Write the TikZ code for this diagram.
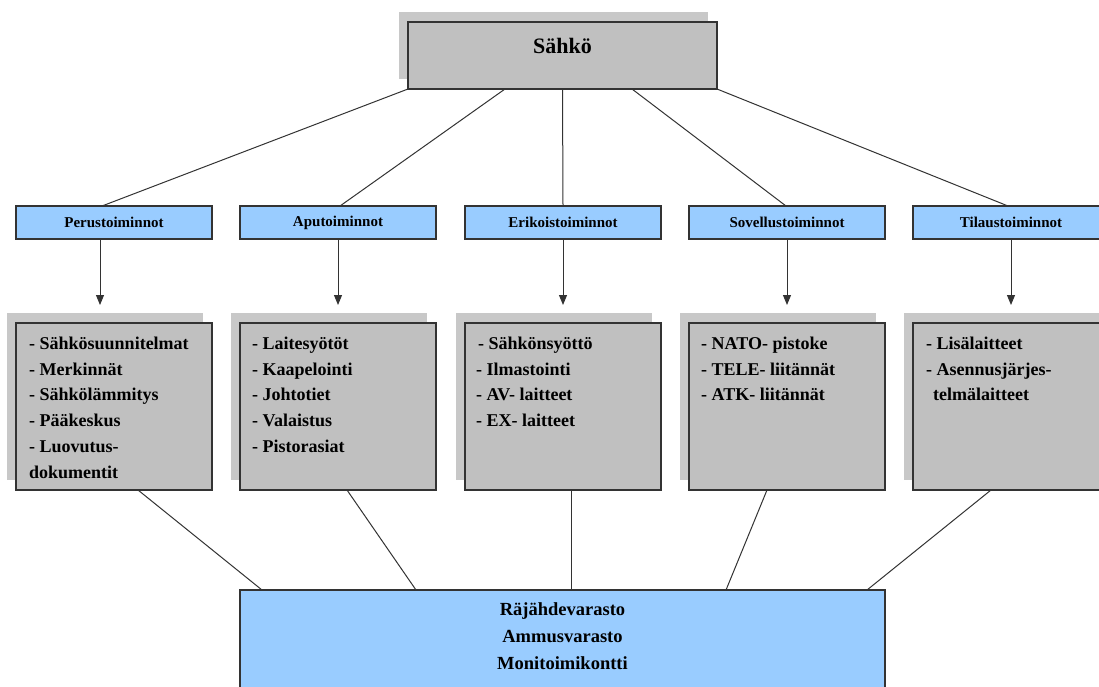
\documentclass[tikz,border=0pt]{standalone}
\usepackage{fontspec}
\setmainfont{Liberation Serif}
\usetikzlibrary{arrows.meta}
\definecolor{boxgray}{HTML}{C0C0C0}
\definecolor{shadowgray}{HTML}{C8C8C8}
\definecolor{catblue}{HTML}{99CCFF}
\definecolor{edgegray}{HTML}{333333}
\begin{document}
\begin{tikzpicture}[x=1pt,y=-1pt,
  panel/.style={draw=edgegray,line width=1.2pt,inner sep=0pt,outer sep=0pt,anchor=north west},
  shade/.style={fill=shadowgray,inner sep=0pt,outer sep=0pt,anchor=north west},
  headbox/.style={panel,fill=boxgray,minimum width=309pt,minimum height=67pt},
  catbox/.style={panel,fill=catblue,minimum width=196pt,minimum height=33pt,
    font=\fontsize{15}{18}\selectfont\bfseries},
  listbox/.style={panel,fill=boxgray,minimum width=196pt,minimum height=167pt},
  listshade/.style={shade,minimum width=196pt,minimum height=167pt},
  items/.style={anchor=north west,align=left,inner sep=0pt,
    font=\fontsize{18}{25.8}\selectfont\bfseries},
  basebox/.style={panel,fill=catblue,minimum width=645pt,minimum height=120pt},
  conn/.style={draw=edgegray,line width=1pt},
  arrow/.style={conn,-{Triangle[width=8pt,length=10pt]}}]
\clip (0,0) rectangle (1099,686);
\fill[white] (0,0) rectangle (1099,686);

% top box with its offset shadow
\node[shade,minimum width=309pt,minimum height=67pt] (tops) at (399,12) {};
\node[headbox] (top) at (408,22) {};
\node[inner sep=0pt,font=\fontsize{22}{26}\selectfont\bfseries] (toptext) at (562.5,46) {Sähkö};

% category boxes
\node[catbox] (c1) at (16,206) {Perustoiminnot};
\node[catbox] (c2) at (240,206) {Aputoiminnot};
\node[catbox] (c3) at (465,206) {Erikoistoiminnot};
\node[catbox] (c4) at (689,206) {Sovellustoiminnot};
\node[catbox] (c5) at (913,206) {Tilaustoiminnot};

% list boxes with shadows
\node[listshade] (s1) at (7,313) {};
\node[listshade] (s2) at (231,313) {};
\node[listshade] (s3) at (456,313) {};
\node[listshade] (s4) at (680,313) {};
\node[listshade] (s5) at (904,313) {};
\node[listbox] (g1) at (16,323) {};
\node[listbox] (g2) at (240,323) {};
\node[listbox] (g3) at (465,323) {};
\node[listbox] (g4) at (689,323) {};
\node[listbox] (g5) at (913,323) {};

\node[items] (t1) at (29,331) {\strut- Sähkösuunnitelmat\\- Merkinnät\\- Sähkölämmitys\\- Pääkeskus\\- Luovutus-\\dokumentit};
\node[items] (t2) at (252,331) {\strut- Laitesyötöt\\- Kaapelointi\\- Johtotiet\\- Valaistus\\- Pistorasiat};
\node[items] (t3) at (476,331) {\strut\hspace*{2pt}- Sähkönsyöttö\\- Ilmastointi\\- AV- laitteet\\- EX- laitteet};
\node[items] (t4) at (701,331) {\strut- NATO- pistoke\\- TELE- liitännät\\- ATK- liitännät};
\node[items] (t5) at (926,331) {\strut- Lisälaitteet\\- Asennusjärjes-\\\hspace*{7pt}telmälaitteet};

% bottom box
\node[basebox] (base) at (240,590) {};
\node[anchor=north,align=center,inner sep=0pt,font=\fontsize{18.5}{27}\selectfont\bfseries]
  (bt) at (562.5,596) {\strut Räjähdevarasto\\Ammusvarasto\\Monitoimikontti};

% top box to categories
\draw[conn] (top.south west) -- ([xshift=-12pt]c1.north);
\draw[conn] ([xshift=97pt]top.south west) -- ([xshift=2pt]c2.north);
\draw[conn] (top.south) -- (c3.north);
\draw[conn] ([xshift=224pt]top.south west) -- ([xshift=-1pt]c4.north);
\draw[conn] (top.south east) -- ([xshift=-3pt]c5.north);

% categories to lists
\draw[arrow] ([xshift=-14pt]c1.south) -- ([xshift=-14pt,yshift=18pt]g1.north);
\draw[arrow] (c2.south) -- ([yshift=18pt]g2.north);
\draw[arrow] (c3.south) -- ([yshift=18pt]g3.north);
\draw[arrow] (c4.south) -- ([yshift=18pt]g4.north);
\draw[arrow] (c5.south) -- ([yshift=18pt]g5.north);

% lists to the bottom box
\draw[conn] ([xshift=122pt]g1.south west) -- ([xshift=22pt]base.north west);
\draw[conn] ([xshift=107pt]g2.south west) -- ([xshift=176pt]base.north west);
\draw[conn] ([xshift=106pt]g3.south west) -- ([xshift=331pt]base.north west);
\draw[conn] ([xshift=78pt]g4.south west) -- ([xshift=486pt]base.north west);
\draw[conn] ([xshift=78pt]g5.south west) -- ([xshift=627pt]base.north west);
\end{tikzpicture}
\end{document}
